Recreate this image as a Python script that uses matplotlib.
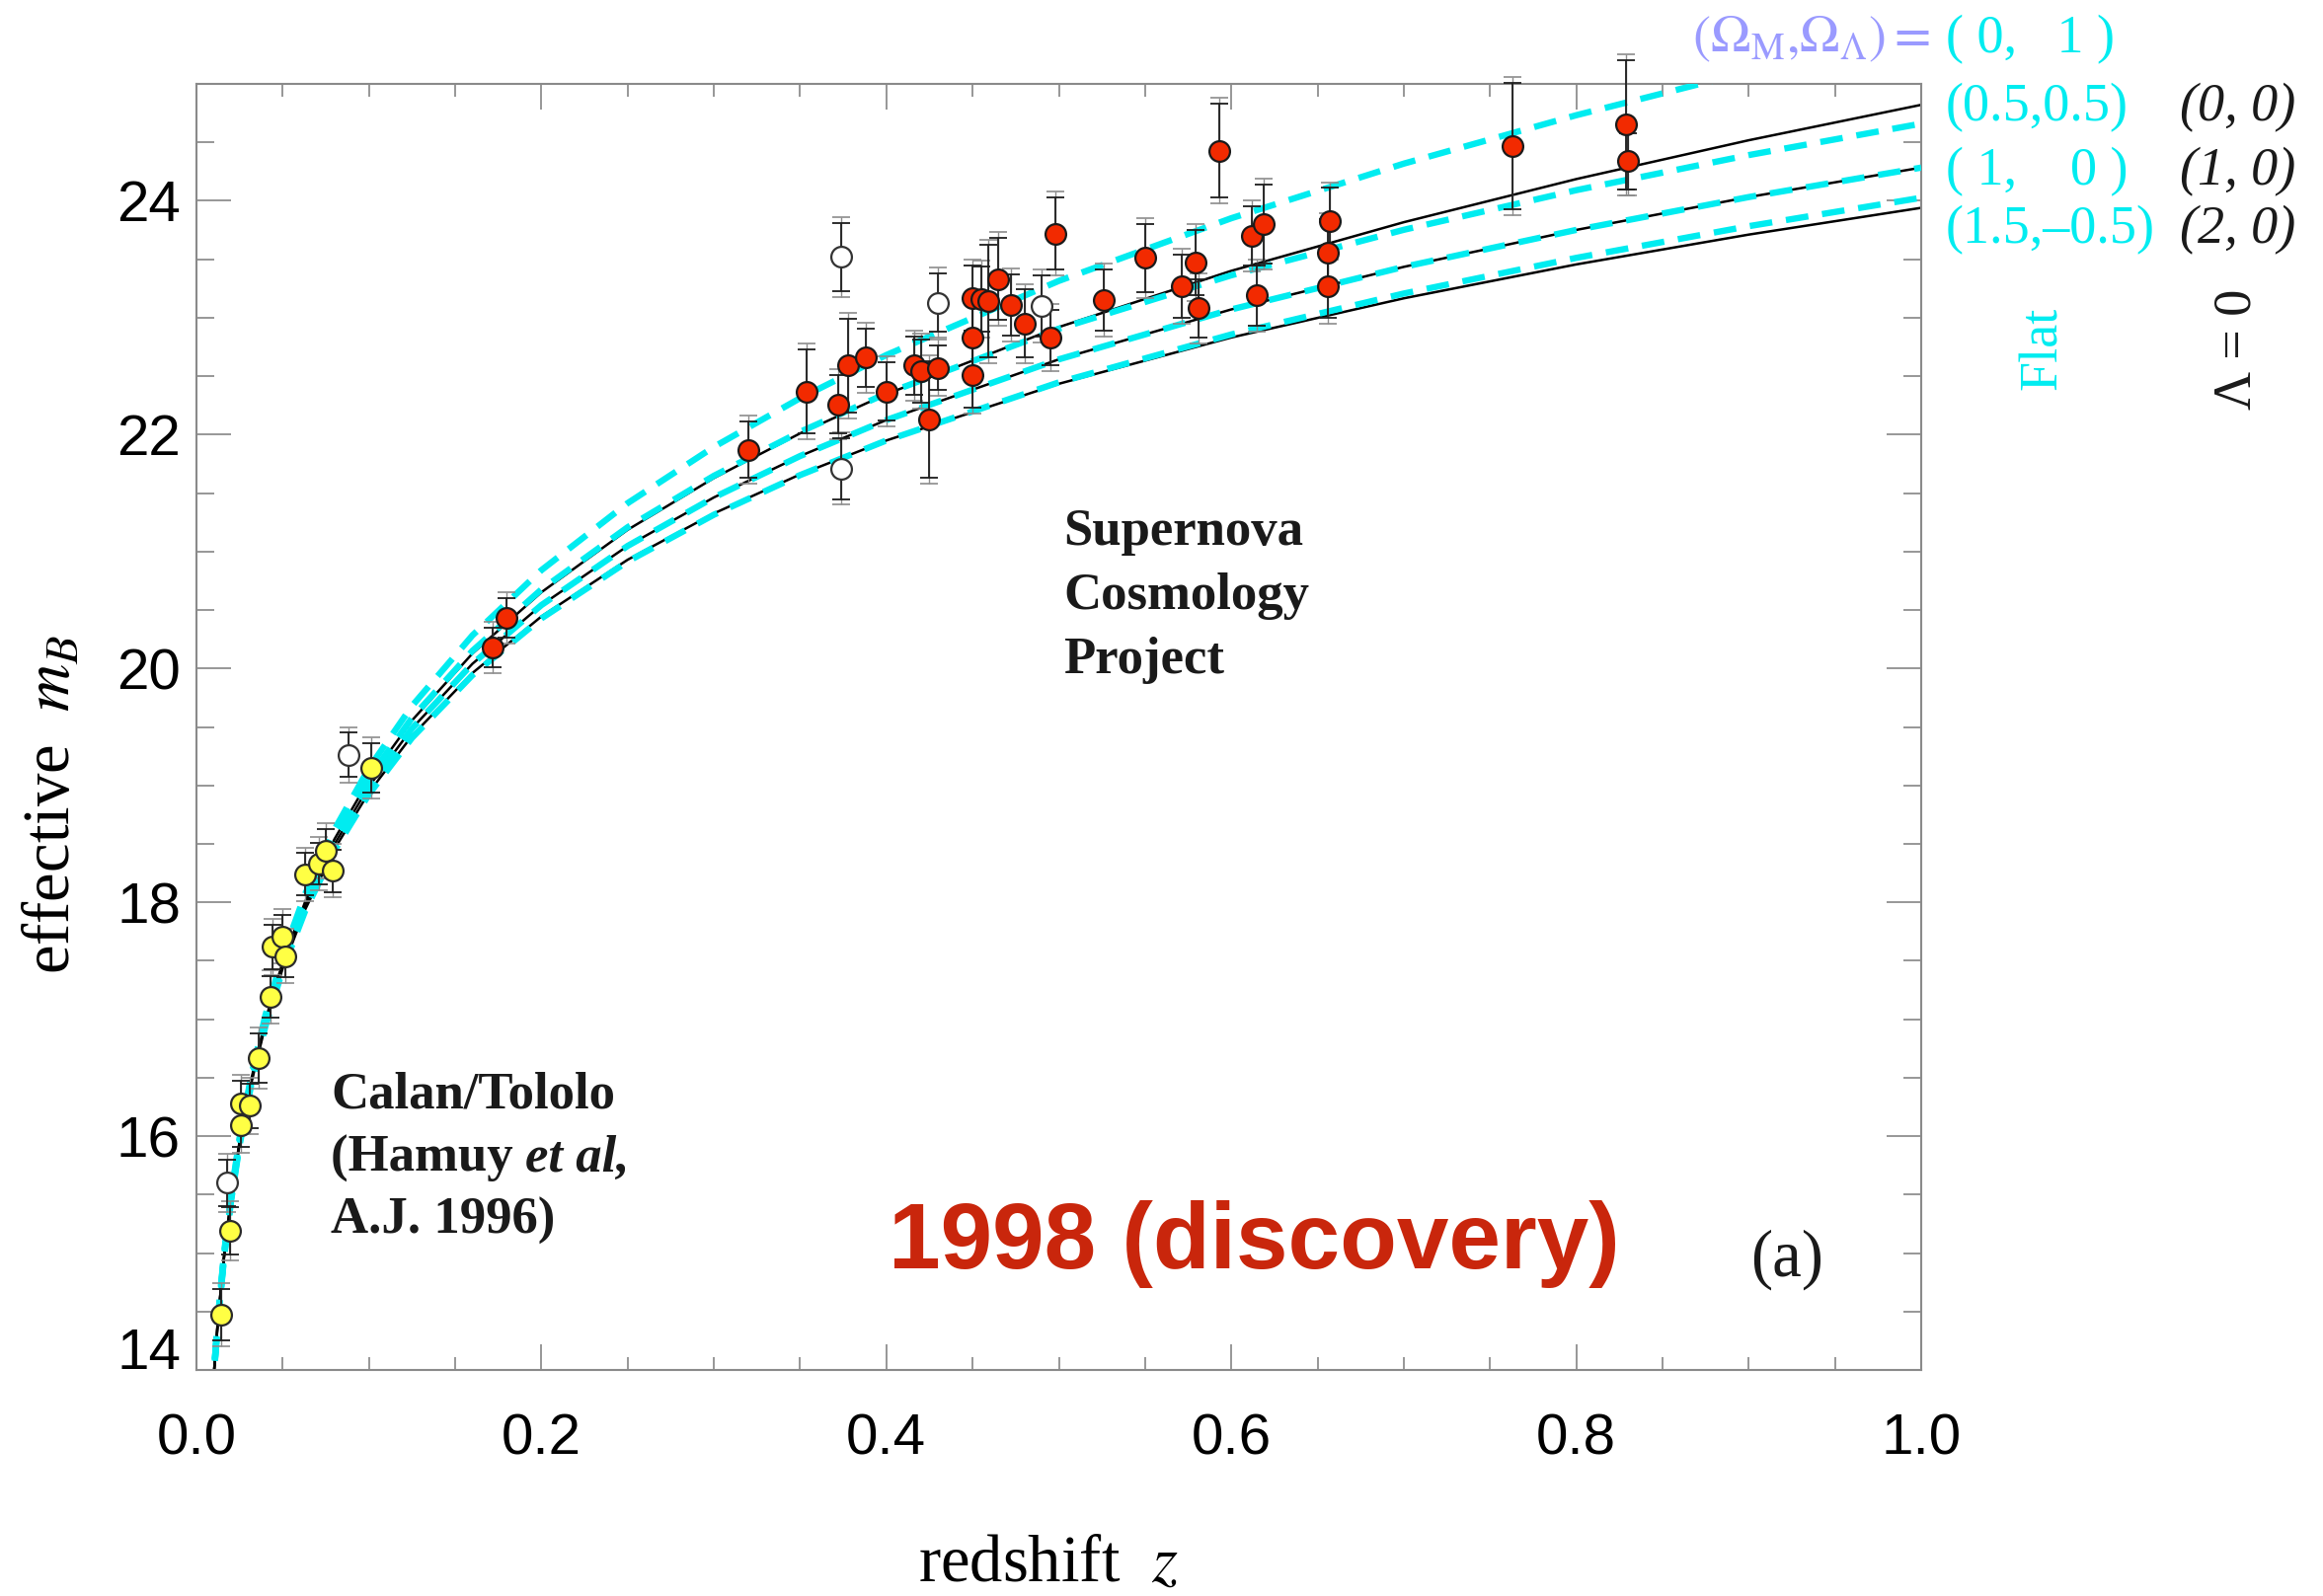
import numpy as np
import matplotlib
matplotlib.use("Agg")
import matplotlib.pyplot as plt
from matplotlib.ticker import MultipleLocator, FormatStrFormatter, FuncFormatter

plt.rcParams['font.family'] = 'Liberation Sans'
plt.rcParams['mathtext.fontset'] = 'stix'

# effective m_B of the model universes, (Omega_M, Omega_Lambda)
z_model = [0.008, 0.01, 0.0125, 0.016, 0.02, 0.025, 0.032, 0.04, 0.05, 0.063, 0.08,
           0.1, 0.125, 0.16, 0.2, 0.25, 0.3, 0.35, 0.4, 0.5, 0.6, 0.7, 0.8, 0.9, 1.0]
m_flat_0_1 = [13.472, 13.962, 14.452, 14.996, 15.488, 15.984, 16.534, 17.035, 17.541, 18.070, 18.622,
              19.147, 19.680, 20.283, 20.841, 21.414, 21.895, 22.312, 22.681, 23.315, 23.851, 24.318, 24.732, 25.105, 25.445]
m_flat_05_05 = [13.466, 13.953, 14.442, 14.982, 15.472, 15.963, 16.508, 17.002, 17.500, 18.018, 18.556,
                19.065, 19.578, 20.151, 20.676, 21.208, 21.648, 22.024, 22.352, 22.906, 23.363, 23.752, 24.091, 24.391, 24.660]
m_flat_1_0 = [13.459, 13.945, 14.432, 14.970, 15.456, 15.943, 16.483, 16.971, 17.461, 17.970, 18.496,
              18.991, 19.488, 20.040, 20.542, 21.048, 21.463, 21.817, 22.125, 22.644, 23.071, 23.435, 23.751, 24.032, 24.284]
m_flat_15_m05 = [13.453, 13.937, 14.422, 14.957, 15.440, 15.924, 16.459, 16.941, 17.425, 17.925, 18.442,
                 18.924, 19.407, 19.943, 20.428, 20.915, 21.315, 21.654, 21.950, 22.447, 22.857, 23.207, 23.512, 23.783, 24.026]
m_lam0_0_0 = [13.464, 13.951, 14.439, 14.978, 15.467, 15.957, 16.501, 16.993, 17.489, 18.004, 18.540,
              19.046, 19.556, 20.128, 20.652, 21.186, 21.629, 22.011, 22.346, 22.920, 23.401, 23.817, 24.186, 24.518, 24.821]
m_lam0_1_0 = m_flat_1_0
m_lam0_2_0 = [13.455, 13.940, 14.425, 14.961, 15.445, 15.930, 16.466, 16.950, 17.435, 17.937, 18.455,
              18.940, 19.425, 19.961, 20.445, 20.930, 21.326, 21.660, 21.950, 22.435, 22.831, 23.166, 23.456, 23.711, 23.940]

# Supernova Cosmology Project
scp_z = [0.172, 0.180, 0.320, 0.354, 0.372, 0.378, 0.388, 0.400, 0.416, 0.420, 0.425, 0.430,
         0.450, 0.455, 0.459, 0.450, 0.450, 0.465, 0.472, 0.480, 0.495, 0.498, 0.526, 0.550,
         0.571, 0.579, 0.581, 0.593, 0.612, 0.619, 0.615, 0.657, 0.656, 0.656, 0.763, 0.829, 0.830]
scp_m = [20.18, 20.43, 21.87, 22.37, 22.26, 22.59, 22.66, 22.37, 22.59, 22.54, 22.13, 22.57,
         23.17, 23.16, 23.14, 22.83, 22.51, 23.33, 23.11, 22.95, 22.83, 23.72, 23.15, 23.51,
         23.27, 23.47, 23.08, 24.43, 23.70, 23.80, 23.19, 23.83, 23.56, 23.27, 24.47, 24.65, 24.34]
scp_err = [0.17, 0.17, 0.24, 0.36, 0.25, 0.40, 0.25, 0.25, 0.25, 0.27, 0.50, 0.19,
           0.28, 0.28, 0.48, 0.30, 0.28, 0.35, 0.26, 0.29, 0.24, 0.31, 0.26, 0.29,
           0.27, 0.28, 0.25, 0.40, 0.25, 0.34, 0.26, 0.28, 0.28, 0.27, 0.54, 0.55, 0.24]

# Calan/Tololo
ct_z = [0.0143, 0.0196, 0.0259, 0.0259, 0.0307, 0.0359, 0.0431, 0.0441, 0.0496, 0.0517,
        0.0630, 0.0708, 0.0752, 0.0790, 0.1011]
ct_m = [14.47, 15.19, 16.09, 16.28, 16.26, 16.67, 17.19, 17.62, 17.71, 17.54,
        18.24, 18.33, 18.44, 18.27, 19.15]
ct_err = [0.22, 0.20, 0.18, 0.19, 0.19, 0.21, 0.18, 0.19, 0.18, 0.18,
          0.18, 0.18, 0.19, 0.18, 0.21]

# excluded supernovae (open symbols)
ex_z = [0.0177, 0.088, 0.374, 0.374, 0.430, 0.490]
ex_m = [15.60, 19.26, 23.52, 21.71, 23.13, 23.10]
ex_err = [0.20, 0.19, 0.29, 0.26, 0.25, 0.26]

CYAN = '#00ecf0'
LAV = '#9a9aff'
SERIF = 'Liberation Serif'

W, H = 2353, 1617
fig = plt.figure(figsize=(W / 100, H / 100), dpi=100)
ax = fig.add_axes([199 / W, 1 - 1388 / H, 1747 / W, 1303 / H])


def fx(px):
    return px / W


def fy(py):
    return 1 - py / H


for m in [m_lam0_0_0, m_lam0_1_0, m_lam0_2_0]:
    ax.plot(z_model, m, color='black', lw=1.8, zorder=2)
for m in [m_flat_0_1, m_flat_05_05, m_flat_1_0, m_flat_15_m05]:
    ax.plot(z_model, m, color=CYAN, lw=4.6, dashes=(3.6, 2.2), zorder=3)


def draw_sn(z, m, err, face, edge):
    ax.errorbar(z, m, yerr=np.array(err) + 0.05, fmt='none', ecolor='#8c8c8c',
                elinewidth=1.0, capsize=6.5, capthick=1.2, zorder=4, clip_on=False)
    ax.errorbar(z, m, yerr=err, fmt='none', ecolor='#1e1e1e',
                elinewidth=1.3, capsize=6.5, capthick=1.3, zorder=5, clip_on=False)
    ax.plot(z, m, 'o', ms=15, mfc=face, mec=edge, mew=1.6, ls='none', zorder=6)


draw_sn(ex_z, ex_m, ex_err, 'white', '#333333')
draw_sn(ct_z, ct_m, ct_err, '#ffff44', '#2a2a2a')
draw_sn(scp_z, scp_m, scp_err, '#f22a00', '#1a1a1a')

ax.set_xlim(0, 1)
ax.set_ylim(14, 25)
ax.xaxis.set_major_locator(MultipleLocator(0.2))
ax.xaxis.set_minor_locator(MultipleLocator(0.05))
ax.yaxis.set_major_locator(MultipleLocator(2))
ax.yaxis.set_minor_locator(MultipleLocator(0.5))
ax.xaxis.set_major_formatter(FormatStrFormatter('%.1f'))
# the bottom label sits on its tick, drawn separately below
ax.yaxis.set_major_formatter(FuncFormatter(lambda v, pos: '' if v < 15 else '%d' % v))
ax.tick_params(which='both', direction='in', top=True, right=True,
               color='#7a7a7a', width=1.1, labelsize=42)
ax.tick_params(axis='y', which='major', length=25, pad=11.5)
ax.tick_params(axis='y', which='minor', length=13)
ax.tick_params(axis='x', which='major', length=19, pad=31)
ax.tick_params(axis='x', which='minor', length=9.5)
for s in ax.spines.values():
    s.set_color('#8a8a8a')
    s.set_linewidth(1.5)
ax.annotate('14', xy=(0, 14), xycoords=('axes fraction', 'data'), xytext=(-11.5, 1),
            textcoords='offset points', ha='right', va='baseline', fontsize=42,
            annotation_clip=False)

# axis titles
fig.text(fx(54), fy(815), 'effective  $m_B$', rotation=90, ha='center', va='center',
         fontsize=48, family=SERIF)
fig.text(fx(1062), fy(1602), 'redshift  $z$', ha='center', va='baseline',
         fontsize=48, family=SERIF)

# data set labels
for txt, yb in [('Supernova', 552), ('Cosmology', 617), ('Project', 682)]:
    fig.text(fx(1077), fy(yb), txt, ha='left', va='baseline', fontsize=38,
             fontweight='bold', family=SERIF, color='#1a1a1a')
fig.text(fx(335), fy(1122), 'Calan/Tololo', ha='left', va='baseline', fontsize=38,
         fontweight='bold', family=SERIF, color='#1a1a1a')
fig.text(fx(335), fy(1187), '(Hamuy ', ha='left', va='baseline', fontsize=38,
         fontweight='bold', family=SERIF, color='#1a1a1a')
fig.text(fx(532), fy(1187), 'et al,', ha='left', va='baseline', fontsize=38,
         fontweight='bold', fontstyle='italic', family=SERIF, color='#1a1a1a')
fig.text(fx(335), fy(1250), 'A.J. 1996)', ha='left', va='baseline', fontsize=38,
         fontweight='bold', family=SERIF, color='#1a1a1a')

fig.text(fx(900), fy(1285), '1998 (discovery)', ha='left', va='baseline', fontsize=68,
         fontweight='bold', family='Liberation Sans', color='#c9260c')
fig.text(fx(1773), fy(1293), '(a)', ha='left', va='baseline', fontsize=48,
         family=SERIF, color='#1a1a1a')

# model key on the right
fig.text(fx(1955), fy(53), r'$(\Omega_{\mathrm{M}}{,}\Omega_{\Lambda})=$', ha='right',
         va='baseline', fontsize=39, color=LAV)
flat_keys = ['( 0,   1 )', '(0.5,0.5)', '( 1,    0 )', '(1.5,\u20130.5)']
lam0_keys = [None, '(0, 0)', '(1, 0)', '(2, 0)']
for i, yb in enumerate([53, 122, 187, 246]):
    fig.text(fx(1971), fy(yb), flat_keys[i], ha='left', va='baseline', fontsize=39,
             family=SERIF, color=CYAN)
    if lam0_keys[i]:
        fig.text(fx(2208), fy(yb), lam0_keys[i], ha='left', va='baseline', fontsize=39,
                 family=SERIF, fontstyle='italic', color='#1a1a1a')
fig.text(fx(2070), fy(353), 'Flat', rotation=90, ha='center', va='center',
         fontsize=39, family=SERIF, color=CYAN)
fig.text(fx(2266), fy(354), '\u039b = 0', rotation=90, ha='center', va='center',
         fontsize=39, family=SERIF, color='#1a1a1a')

fig.savefig('out.png', dpi=100)
